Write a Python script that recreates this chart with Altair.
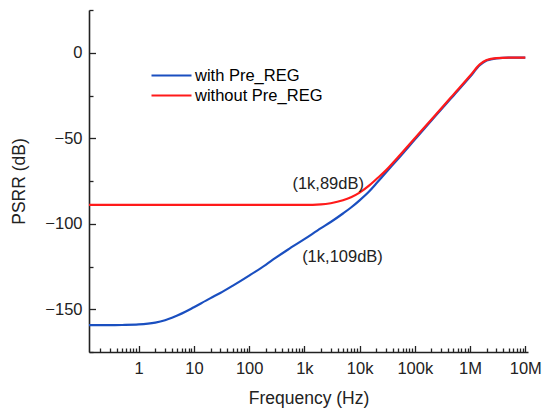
import altair as alt
import pandas as pd

# ---- data ----
freq = [0.126, 0.2, 0.3, 0.5, 1, 2, 3, 4, 5, 7, 10, 20, 30, 50, 100, 200, 300, 500,
        1e3, 2e3, 3e3, 5e3, 7e3, 1e4, 1.5e4, 2e4, 3e4, 5e4, 1e5, 2e5, 3e5, 5e5,
        1e6, 1.5e6, 2e6, 3e6, 5e6, 1e7]
with_pre_reg = [-159.3, -159.3, -159.3, -159.2, -158.9, -157.8, -156.4, -155.0, -153.7, -151.5,
                -148.8, -143.5, -140.5, -136.3, -130.3, -124.0, -120.0, -115.2,
                -109.0, -102.6, -99.0, -94.0, -90.5, -86.3, -81.0, -76.5, -70.0, -62.0,
                -50.8, -39.6, -33.2, -25.1, -14.1, -7.3, -4.6, -3.3, -2.9, -2.9]
without_pre_reg = [-89.0, -89.0, -89.0, -89.0, -89.0, -89.0, -89.0, -89.0, -89.0, -89.0,
                   -89.0, -89.0, -89.0, -89.0, -89.0, -89.0, -89.0, -89.0,
                   -89.0, -88.7, -88.0, -86.3, -84.5, -81.8, -77.6, -74.0, -68.8, -61.0,
                   -50.0, -39.0, -32.6, -24.5, -13.5, -6.8, -4.2, -3.1, -2.8, -2.8]
series_names = ["with Pre_REG", "without Pre_REG"]
series_colors = ["#1a4fc0", "#ff1a1a"]

x_major = [1, 10, 100, 1e3, 1e4, 1e5, 1e6, 1e7]
x_major_labels = ["1", "10", "100", "1k", "10k", "100k", "1M", "10M"]
x_minor = [0.2, 0.3, 0.4, 0.5, 0.6, 0.7, 0.8, 0.9,
           2, 3, 4, 5, 6, 7, 8, 9,
           20, 30, 40, 50, 60, 70, 80, 90,
           200, 300, 400, 500, 600, 700, 800, 900,
           2e3, 3e3, 4e3, 5e3, 6e3, 7e3, 8e3, 9e3,
           2e4, 3e4, 4e4, 5e4, 6e4, 7e4, 8e4, 9e4,
           2e5, 3e5, 4e5, 5e5, 6e5, 7e5, 8e5, 9e5,
           2e6, 3e6, 4e6, 5e6, 6e6, 7e6, 8e6, 9e6]
y_major = [-150, -100, -50, 0]
y_minor = [-175, -125, -75, -25, 25]

ann_text = ["(1k,89dB)", "(1k,109dB)"]
ann_freq = [2.7e3, 4.9e3]
ann_db = [-76.5, -119.4]

x_domain = [0.126, 1.12e7]
y_domain = [-175, 25]

FONT = "Liberation Sans"

df = pd.DataFrame({
    "f": freq * 2,
    "db": with_pre_reg + without_pre_reg,
    "series": [series_names[0]] * len(freq) + [series_names[1]] * len(freq),
})
ann = pd.DataFrame({"label": ann_text, "f": ann_freq, "db": ann_db})

label_expr = " : ".join(
    f"datum.value == {v} ? '{l}'" for v, l in zip(x_major, x_major_labels)
) + " : ''"

xscale = alt.Scale(type="log", domain=x_domain, nice=False)
yscale = alt.Scale(domain=y_domain, nice=False, zero=False)

lines = alt.Chart(df).mark_line(strokeWidth=2.2, interpolate="monotone", clip=True).encode(
    x=alt.X("f:Q", scale=xscale,
            axis=alt.Axis(orient="bottom", values=x_major, labelExpr=label_expr,
                          tickSize=alt.ExprRef("-6.5"), labelPadding=15,
                          title="Frequency (Hz)", titleY=46, titleBaseline="middle",
                          grid=False)),
    y=alt.Y("db:Q", scale=yscale,
            axis=alt.Axis(orient="left", values=y_major, tickSize=alt.ExprRef("-6.5"),
                          labelPadding=13.5, title="PSRR (dB)", titleX=-70, titleY=171,
                          titleAngle=-90, titleBaseline="middle", titleAlign="center",
                          grid=False)),
    color=alt.Color("series:N",
                    scale=alt.Scale(domain=series_names, range=series_colors),
                    legend=alt.Legend(title=None, orient="none", legendX=71, legendY=54,
                                      symbolType="M-2,0H2", symbolSize=400,
                                      symbolStrokeWidth=2.2, labelFontSize=16.5,
                                      labelFont=FONT, labelColor="black",
                                      labelOffset=12, rowPadding=0,
                                      padding=0)),
)

minor = alt.Chart(df).mark_line(opacity=0).encode(
    x=alt.X("f:Q", scale=xscale,
            axis=alt.Axis(orient="bottom", values=x_minor, labels=False, domain=False,
                          tickSize=alt.ExprRef("-4"), title=None, grid=False)),
    y=alt.Y("db:Q", scale=yscale,
            axis=alt.Axis(orient="left", values=y_minor, labels=False, domain=False,
                          tickSize=alt.ExprRef("-4"), title=None, grid=False)),
    detail="series:N",
)

texts = alt.Chart(ann).mark_text(fontSize=16.5, font=FONT, color="#222222").encode(
    x=alt.X("f:Q", scale=xscale, axis=None),
    y=alt.Y("db:Q", scale=yscale, axis=None),
    text="label:N",
)

chart = alt.layer(lines, minor, texts).resolve_axis(
    x="independent", y="independent"
).properties(
    width=439, height=342,
    autosize=alt.AutoSizeParams(type="none"),
    padding={"left": 81, "top": 2, "right": 14, "bottom": 56},
    background="white",
).configure_view(stroke=None).configure_axis(
    domainColor="#222222", domainWidth=1.6, tickColor="#222222", tickWidth=1.3,
    labelFont=FONT, labelFontSize=16.5, labelColor="#222222",
    titleFont=FONT, titleFontSize=17.5, titleColor="#222222", titleFontWeight="normal",
)

chart.save("out.html", embed_options={"renderer": "svg", "actions": False})
